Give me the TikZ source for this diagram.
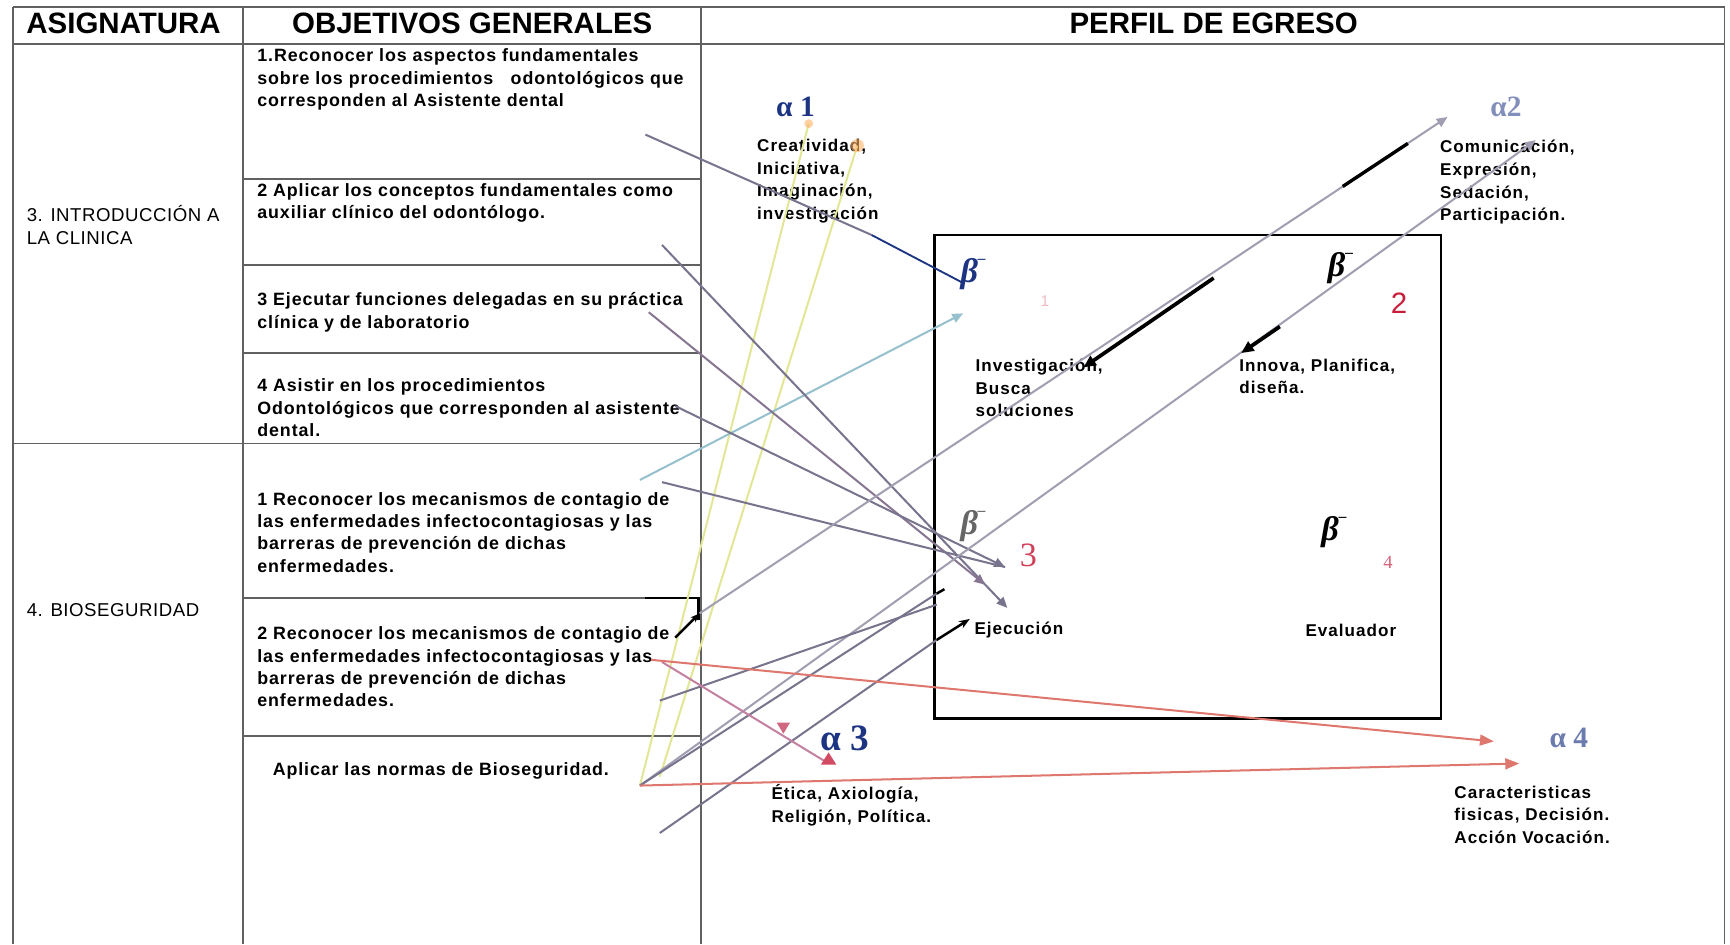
\documentclass[tikz,border=0pt]{standalone}
\usepackage{fontspec}
\setmainfont{Liberation Sans}
\newfontfamily\grk{Liberation Serif}
\newfontfamily\objfont[LetterSpace=5]{Liberation Sans}
\newfontfamily\perffont[LetterSpace=6]{Liberation Sans}
\newfontfamily\asigfont[LetterSpace=3]{Liberation Sans}
\usetikzlibrary{arrows.meta}

\definecolor{lgray}{RGB}{120,116,142}
\definecolor{lpink}{RGB}{196,128,160}
\definecolor{lyell}{RGB}{226,230,150}
\definecolor{lcyan}{RGB}{150,192,205}
\definecolor{ablue}{RGB}{28,52,130}
\definecolor{nred}{RGB}{200,30,60}
\definecolor{lsalm}{RGB}{222,120,110}

\tikzset{
	tab/.style={line width=1.2pt, draw=black!62},
	hdr/.style={font=\bfseries\fontsize{19}{22}\selectfont},
	asig/.style={anchor=north west, align=left, inner sep=0pt, font=\asigfont\fontsize{12}{14.5}\selectfont},
	objtxt/.style={anchor=north west, align=left, inner sep=0pt, font=\objfont\bfseries\fontsize{11.5}{14.4}\selectfont},
	perf/.style={anchor=north west, align=left, inner sep=0pt, font=\perffont\bfseries\fontsize{11}{14.6}\selectfont},
	alab/.style={font=\grk\bfseries\fontsize{19}{20}\selectfont, text=ablue},
	blab/.style={font=\grk\itshape\bfseries\fontsize{22}{22}\selectfont},
	link/.style={line width=1.3pt, draw=lgray},
	tip/.style={-{Triangle[length=7pt,width=6pt]}},
	thick arrow/.style={line width=2.4pt, black, -{Triangle[length=8pt,width=7pt]}}
}

\begin{document}
\begin{tikzpicture}[x=0.25mm, y=-0.25mm]
	%%%%% START %%%%%
	\useasboundingbox (0,0) rectangle (1568,856);
	
	% table
	\draw[tab] (12,6) -- (1563,6);
	\draw[tab] (12,40) -- (1563,40);
	\draw[tab] (12,6) -- (12,856);
	\draw[tab] (220,6) -- (220,856);
	\draw[tab] (635,6) -- (635,856);
	\draw[tab] (1563,6) -- (1563,856);
	\draw[tab] (12,402) -- (220,402);
	\foreach \y in {162,240,320,402,542,667}
		\draw[tab] (220,\y) -- (635,\y);
	\draw[line width=1.6pt] (585,542) -- (633,542) -- (633,562);
	
	\node[hdr] (hAsig) at (112,21) {ASIGNATURA};
	\node[hdr] (hObj) at (428,21) {OBJETIVOS GENERALES};
	\node[hdr] (hPerf) at (1100,21) {PERFIL DE EGRESO};
	
	\node[asig] (asig3) at (24,186) {3. INTRODUCCIÓN A\\LA CLINICA};
	\node[asig] (asig4) at (24,547) {4. BIOSEGURIDAD};
	
	\node[objtxt] (ob1) at (233,44) {1.Reconocer los aspectos fundamentales\\sobre los procedimientos \ \ odontológicos que\\corresponden al Asistente dental};
	\node[objtxt] (ob2) at (233,166) {2 Aplicar los conceptos fundamentales como\\auxiliar clínico del odontólogo.};
	\node[objtxt] (ob3) at (233,265) {3 Ejecutar funciones delegadas en su práctica\\clínica y de laboratorio};
	\node[objtxt] (ob4) at (233,343) {4 Asistir en los procedimientos\\Odontológicos que corresponden al asistente\\dental.};
	\node[objtxt] (ob5) at (233,446) {1 Reconocer los mecanismos de contagio de\\las enfermedades infectocontagiosas y las\\barreras de prevención de dichas\\enfermedades.};
	\node[objtxt] (ob6) at (233,568) {2 Reconocer los mecanismos de contagio de\\las enfermedades infectocontagiosas y las\\barreras de prevención de dichas\\enfermedades.};
	\node[objtxt] (ob7) at (247,691) {Aplicar las normas de Bioseguridad.};
	
	% perfil de egreso
	\draw[line width=1.6pt] (847,213) rectangle (1306,651);
	
	\node[alab] (a1) at (721,97) {α 1};
	\node[alab, text=ablue!55] (a2) at (1365,97) {α2};
	\node[alab, font=\grk\bfseries\fontsize{24}{24}\selectfont] (a3) at (766,669) {α 3};
	\node[alab, text=ablue!65] (a4) at (1422,669) {α 4};
	
	\node[perf] (pCrea) at (686,126) {Creatividad,\\Iniciativa,\\Imaginación,\\investigación};
	\node[perf] (pComu) at (1305,127) {Comunicación,\\Expresión,\\Sedación,\\Participación.};
	\node[perf] (pInv) at (884,325) {Investigación,\\Busca\\soluciones};
	\node[perf] (pInn) at (1123,325) {Innova, Planifica,\\diseña.};
	\node[perf, anchor=west] (pEje) at (883,571) {Ejecución};
	\node[perf, anchor=west] (pEva) at (1183,571) {Evaluador};
	\node[perf] (pEti) at (699,711) {Ética, Axiología,\\Religión, Política.};
	\node[perf] (pCar) at (1318,712) {Caracteristicas\\fisicas, Decisión.\\Acción Vocación.};
	
	\node[blab, text=ablue] (b1) at (882,248) {β\raisebox{1.2ex}{\fontsize{10}{10}\selectfont –}};
	\node[blab] (b2) at (1215,243) {β\raisebox{1.2ex}{\fontsize{10}{10}\selectfont –}};
	\node[blab, text=black!60] (b3) at (882,477) {β\raisebox{1.2ex}{\fontsize{10}{10}\selectfont –}};
	\node[blab] (b4) at (1209,482) {β\raisebox{1.2ex}{\fontsize{10}{10}\selectfont –}};
	
	\node[text=nred!30, font=\fontsize{10}{10}\selectfont] (n1) at (947,273) {1};
	\node[text=nred, font=\fontsize{19}{19}\selectfont] (n2) at (1268,275) {2};
	\node[text=nred!85, font=\grk\fontsize{22}{22}\selectfont] (n3) at (932,503) {3};
	\node[text=nred!70, font=\grk\fontsize{12}{12}\selectfont] (n4) at (1258,510) {4};
	
	% line ends
	\coordinate (o1) at (585,122);
	\coordinate (o2) at (600,222);
	\coordinate (o3) at (588,283);
	\coordinate (o4) at (612,368);
	\coordinate (o5) at (600,437);
	\coordinate (o5c) at (580,435);
	\coordinate (o6a) at (634,556);
	\coordinate (o6b) at (590,598);
	\coordinate (o6c) at (600,600);
	\coordinate (o6d) at (598,635);
	\coordinate (hub) at (580,712);
	\coordinate (hub2) at (598,704);
	\coordinate (o7b) at (598,755);
	
	\coordinate (B1) at (872,256);
	\coordinate (B1m) at (873,284);
	\coordinate (A1a) at (733,112);
	\coordinate (A1b) at (777,132);
	\coordinate (A2a) at (1312,106);
	\coordinate (A2b) at (1392,127);
	\coordinate (A3a) at (911,514);
	\coordinate (A3b) at (893,530);
	\coordinate (A3c) at (913,551);
	\coordinate (Eb) at (849,538);
	\coordinate (Eb2) at (849,548);
	\coordinate (E0) at (849,580);
	\coordinate (E1) at (879,561);
	\coordinate (Al3) at (751,692);
	\coordinate (Al4a) at (1354,672);
	\coordinate (Al4b) at (1377,692);
	
	% connectors
	\draw[lyell, line width=1.3pt] (hub) -- (A1a);
	\draw[lyell, line width=1.3pt] (hub2) -- (A1b);
	\fill[orange!60, opacity=0.6] (A1a) circle (4);
	\fill[orange!60, opacity=0.6] (A1b) circle (6);
	
	\draw[link] (o1) -- (790,213);
	\draw[ablue, line width=1.2pt] (790,213) -- (B1);
	\draw[lcyan, line width=1.3pt, tip] (o5c) -- (B1m);
	
	\draw[link, tip] (o2) -- (A3c);
	\draw[link, draw=lgray!80!lpink, tip] (o3) -- (A3b);
	\draw[link, tip] (o4) -- (A3a);
	\draw[link] (o5) -- (A3a);
	
	\draw[link, draw=lgray!70, -{Triangle[length=7pt,width=6pt]}] (o6a) -- (A2a);
	\draw[link, draw=lgray!70, -{Triangle[length=7pt,width=6pt]}] (hub) -- (A2b);
	\draw[line width=1.6pt, -{Stealth[length=6pt]}] (612,578) -- (o6a);
	\draw[line width=2.2pt] (1217,169) -- (1276,130);
	\draw[thick arrow] (1100,252) -- (982,333);
	\draw[thick arrow] (1160,296) -- (1125,320);
	
	\draw[link] (hub) -- (Eb);
	\draw[link] (o6d) -- (Eb2);
	\draw[line width=1.6pt] (Eb) -- (856,534);
	\draw[link] (o7b) -- (E0);
	\draw[line width=1.6pt, -{Stealth[length=7pt]}] (E0) -- (E1);
	
	\draw[line width=1.3pt, draw=lpink] (o6c) -- (Al3);
	\fill[nred!80] (Al3) ++(-7,1) -- ++(14,0) -- ++(-7,-11) -- cycle;
	\fill[lpink!80!red] (704,655) -- (716,655) -- (710,665) -- cycle;
	
	\draw[line width=1.3pt, draw=lyell!50!lsalm, -{Triangle[length=9pt,width=7pt]}, color=lsalm] (o6b) -- (Al4a);
	\draw[line width=1.3pt, draw=lsalm!70, -{Triangle[length=9pt,width=7pt]}, color=lsalm] (hub) -- (Al4b);
	
	%%%%% END %%%%%
\end{tikzpicture}
\end{document}
